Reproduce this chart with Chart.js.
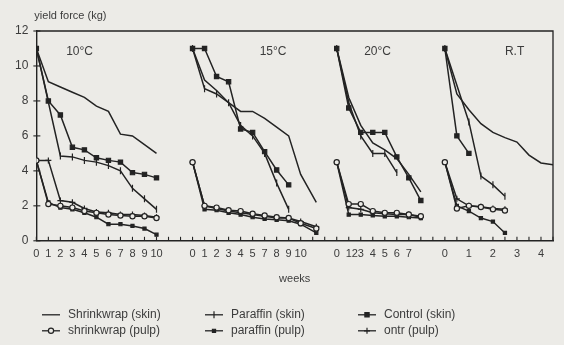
<!DOCTYPE html>
<html lang="en">
<head>
<meta charset="UTF-8">
<title>Yield force of skin and pulp</title>
<script src="https://cdn.jsdelivr.net/npm/chart.js"></script>
<style>
  html, body { margin: 0; padding: 0; background: #ecebe7; }
  #wrap { width: 564px; height: 345px; position: relative; }
</style>
</head>
<body>
<div id="wrap"><canvas id="yield"></canvas></div>
<script>
// positions on the shared week axis (one slot per tick mark)
const pos10 = [0, 1, 2, 3, 4, 5, 6, 7, 8, 9, 10];
const pos15 = [13, 14, 15, 16, 17, 18, 19, 20, 21, 22, 23.3];
const pos20 = [25, 26, 27, 28, 29, 30, 31, 32];
const posRT = [34, 35, 36, 37, 38, 39, 40, 41, 42, 43];

// 10°C
const shrinkSkin10 = [11, 9.1, 8.8, 8.5, 8.2, 7.7, 7.4, 6.1, 6.0, 5.5, 5.0];
const shrinkPulp10 = [4.6, 2.1, 2.0, 1.9, 1.7, 1.6, 1.5, 1.45, 1.4, 1.4, 1.3];
const paraSkin10   = [11, null, 4.85, 4.8, 4.6, 4.5, 4.3, 4.0, 3.0, 2.4, 1.8];
const paraPulp10   = [4.6, 2.2, 1.9, 1.8, 1.6, 1.35, 0.95, 0.95, 0.85, 0.7, 0.35];
const ctrlSkin10   = [11, 8.0, 7.2, 5.35, 5.2, 4.75, 4.6, 4.5, 3.9, 3.8, 3.6];
const ctrlPulp10   = [4.6, 4.6, 2.3, 2.2, 1.85, 1.65, 1.6, 1.5, 1.5, 1.45, 1.35];

// 15°C
const shrinkSkin15 = [11, 9.2, 8.6, 7.9, 7.4, 7.4, 7.0, 6.5, 6.0, 3.8, 2.2];
const shrinkPulp15 = [4.5, 2.0, 1.9, 1.75, 1.7, 1.55, 1.45, 1.35, 1.3, 1.0, 0.7];
const paraSkin15   = [11, 8.7, 8.4, 7.9, 6.6, 6.0, 5.0, 3.3, 1.8, null, null];
const paraPulp15   = [4.5, 1.8, 1.75, 1.6, 1.5, 1.35, 1.25, 1.2, 1.15, 0.95, 0.45];
const ctrlSkin15   = [11, 11, 9.4, 9.1, 6.4, 6.2, 5.1, 4.05, 3.2, null, null];
const ctrlPulp15   = [4.5, 2.0, 1.85, 1.7, 1.6, 1.5, 1.4, 1.3, 1.3, 1.1, 0.8];

// 20°C
const shrinkSkin20 = [11, 8.2, 6.6, 5.6, 5.2, 4.7, 3.8, 2.8];
const shrinkPulp20 = [4.5, 2.1, 2.1, 1.7, 1.6, 1.6, 1.5, 1.4];
const paraSkin20   = [11, 7.9, 6.0, 5.0, 5.0, 3.9, null, null];
const paraPulp20   = [4.5, 1.5, 1.5, 1.45, 1.4, 1.4, 1.35, 1.3];
const ctrlSkin20   = [11, 7.6, 6.2, 6.2, 6.2, 4.8, 3.6, 2.3];
const ctrlPulp20   = [4.5, 1.9, 1.8, 1.6, 1.55, 1.5, 1.5, 1.35];

// room temperature (two ticks per week)
const shrinkSkinRT = [11, 8.4, 7.5, 6.7, 6.2, 5.9, 5.65, 4.9, 4.45, 4.35];
const shrinkPulpRT = [4.5, 1.85, 2.0, 1.93, 1.8, 1.73];
const paraSkinRT   = [11, null, 6.8, 3.7, 3.2, 2.55];
const paraPulpRT   = [4.5, 2.0, 1.7, 1.3, 1.1, 0.45];
const ctrlSkinRT   = [11, 6.0, 5.0];
const ctrlPulpRT   = [4.5, 2.4, 2.0, 1.95, 1.85, 1.8];

// tick labels along the week axis
const tickPos  = [0, 1, 2, 3, 4, 5, 6, 7, 8, 9, 10,
                  13, 14, 15, 16, 17, 18, 19, 20, 21, 22,
                  25, 26, 26.5, 27, 28, 29, 30, 31,
                  34, 36, 38, 40, 42];
const tickText = ['0', '1', '2', '3', '4', '5', '6', '7', '8', '9', '10',
                  '0', '1', '2', '3', '4', '5', '7', '8', '9', '10',
                  '0', '1', '2', '3', '4', '5', '6', '7',
                  '0', '1', '2', '3', '4'];
const yTicks = [0, 2, 4, 6, 8, 10, 12];

const panelNames = ['10°C', '15°C', '20°C', 'R.T'];
const panelNameX = [3.6, 19.7, 28.4, 39.8];

const seriesNames = ['Shrinkwrap (skin)', 'shrinkwrap (pulp)', 'Paraffin (skin)',
                     'paraffin (pulp)', 'Control (skin)', 'ontr (pulp)'];

const ink = '#232323';
const textInk = '#3c3c3c';
const font = '"Liberation Sans", Arial, sans-serif';

// marker per series
const markers = [
  { pointStyle: 'circle', pointRadius: 0, pointBackgroundColor: ink },
  { pointStyle: 'circle', pointRadius: 2.6, pointBackgroundColor: '#ecebe7' },
  { pointStyle: 'line', pointRadius: 3.5, pointRotation: 90, pointBackgroundColor: ink },
  { pointStyle: 'rect', pointRadius: 2.2, pointBackgroundColor: ink },
  { pointStyle: 'rect', pointRadius: 3, pointBackgroundColor: ink },
  { pointStyle: 'cross', pointRadius: 3, pointBackgroundColor: ink }
];

const panels = [
  [pos10, [shrinkSkin10, shrinkPulp10, paraSkin10, paraPulp10, ctrlSkin10, ctrlPulp10]],
  [pos15, [shrinkSkin15, shrinkPulp15, paraSkin15, paraPulp15, ctrlSkin15, ctrlPulp15]],
  [pos20, [shrinkSkin20, shrinkPulp20, paraSkin20, paraPulp20, ctrlSkin20, ctrlPulp20]],
  [posRT, [shrinkSkinRT, shrinkPulpRT, paraSkinRT, paraPulpRT, ctrlSkinRT, ctrlPulpRT]]
];

const datasets = [];
panels.forEach(([pos, series]) => {
  series.forEach((vals, s) => {
    const pts = [];
    vals.forEach((v, i) => { if (v != null) pts.push({ x: pos[i], y: v }); });
    datasets.push(Object.assign({
      label: seriesNames[s],
      data: pts,
      borderColor: ink,
      pointBorderColor: ink,
      pointBorderWidth: 1.2,
      borderWidth: 1.5,
      tension: 0
    }, markers[s]));
  });
});

const decor = {
  id: 'decor',
  afterDraw(chart) {
    const { ctx, chartArea: a, scales: { x, y } } = chart;
    ctx.save();
    ctx.strokeStyle = ink;
    ctx.lineWidth = 1.3;
    // top and right frame
    ctx.beginPath();
    ctx.moveTo(a.left, a.top); ctx.lineTo(a.right, a.top); ctx.lineTo(a.right, a.bottom);
    ctx.stroke();
    // inward tick marks on the week axis
    ctx.lineWidth = 1.1;
    for (let i = 0; i <= 43; i++) {
      const px = x.getPixelForValue(i);
      ctx.beginPath(); ctx.moveTo(px, a.bottom); ctx.lineTo(px, a.bottom - 4); ctx.stroke();
    }
    yTicks.forEach(v => {
      const py = y.getPixelForValue(v);
      ctx.beginPath(); ctx.moveTo(a.left - 3, py); ctx.lineTo(a.left + 4, py); ctx.stroke();
    });

    ctx.fillStyle = textInk;
    ctx.textBaseline = 'middle';
    // panel names
    ctx.font = '12px ' + font;
    ctx.textAlign = 'center';
    panelNames.forEach((n, i) => ctx.fillText(n, x.getPixelForValue(panelNameX[i]), y.getPixelForValue(10.8)));
    // axis titles
    ctx.font = '11px ' + font;
    ctx.textAlign = 'left';
    ctx.fillText('yield force (kg)', a.left - 2, a.top - 15);
    ctx.textAlign = 'center';
    ctx.fillText('weeks', (a.left + a.right) / 2, a.bottom + 38);

    // legend: three columns, two rows
    const colX = [42, 205, 358];
    const rowY = [a.bottom + 74, a.bottom + 90];
    ctx.font = '12px ' + font;
    ctx.textAlign = 'left';
    seriesNames.forEach((n, s) => {
      const sx = colX[Math.floor(s / 2)], sy = rowY[s % 2];
      const m = markers[s];
      ctx.strokeStyle = ink;
      ctx.lineWidth = 1.3;
      ctx.beginPath(); ctx.moveTo(sx, sy); ctx.lineTo(sx + 18, sy); ctx.stroke();
      if (m.pointRadius > 0) {
        ctx.fillStyle = m.pointBackgroundColor;
        ctx.lineWidth = 1.2;
        Chart.helpers.drawPoint(ctx, {
          pointStyle: m.pointStyle, radius: m.pointRadius,
          rotation: m.pointRotation || 0, borderWidth: 1.2
        }, sx + 9, sy);
      }
      ctx.fillStyle = textInk;
      ctx.fillText(n, sx + 26, sy);
    });
    ctx.restore();
  }
};

new Chart('yield', {
  type: 'line',
  data: { datasets },
  options: {
    responsive: true,
    maintainAspectRatio: false,
    animation: false,
    layout: { padding: { left: 7, right: 11, top: 31, bottom: 77 } },
    plugins: { legend: { display: false }, tooltip: { enabled: false } },
    scales: {
      x: {
        type: 'linear', min: 0, max: 43,
        afterBuildTicks: axis => { axis.ticks = tickPos.map(v => ({ value: v })); },
        ticks: {
          autoSkip: false, maxRotation: 0, padding: 7,
          color: textInk, font: { size: 11, family: font },
          callback: (v, i) => tickText[i]
        },
        grid: { display: false, drawTicks: false },
        border: { color: ink, width: 1.4 }
      },
      y: {
        min: 0, max: 12,
        afterBuildTicks: axis => { axis.ticks = yTicks.map(v => ({ value: v })); },
        ticks: { padding: 8, color: textInk, font: { size: 12, family: font } },
        grid: { display: false, drawTicks: false },
        border: { color: ink, width: 1.4 }
      }
    }
  },
  plugins: [decor]
});
</script>
</body>
</html>
